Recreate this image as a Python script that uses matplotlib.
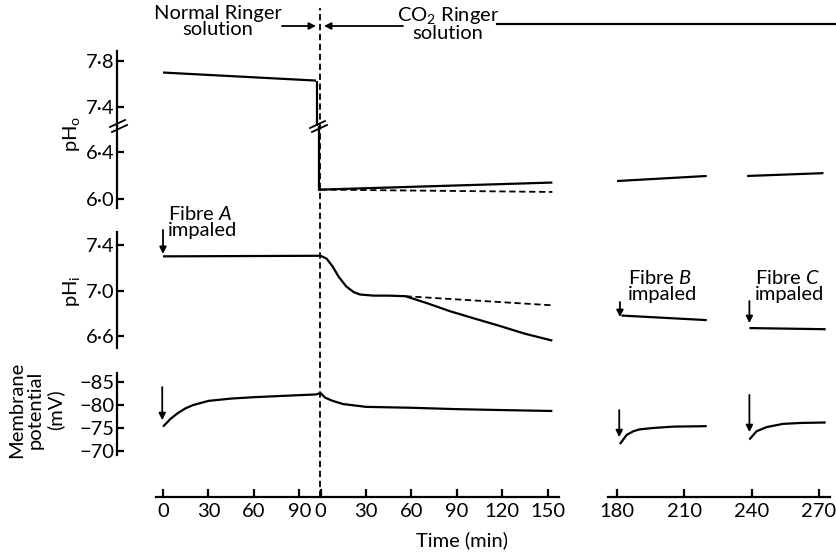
import numpy as np
import matplotlib.pyplot as plt
from matplotlib.lines import Line2D
from matplotlib.patches import FancyArrowPatch
import matplotlib.transforms as mtransforms

plt.rcParams['font.family'] = ['Lato', 'DejaVu Sans']
plt.rcParams['mathtext.fontset'] = 'custom'
plt.rcParams['mathtext.rm'] = 'Lato'
plt.rcParams['mathtext.it'] = 'Lato:italic'

# ---- data ----
# normal Ringer, fibre A (min from start)
pho_norm_t = [0, 101]
pho_norm = [7.70, 7.63]
phi_norm_t = [0, 101]
phi_norm = [7.30, 7.305]
vm_norm_t = [0, 5, 10, 15, 20, 30, 45, 60, 80, 101]
vm_norm = [-75.3, -77.0, -78.3, -79.3, -80.0, -80.9, -81.4, -81.7, -82.0, -82.3]

# CO2 Ringer, fibre A (min from solution change)
pho_co2_t = [0, 153]
pho_co2 = [6.08, 6.14]
pho_co2_dash = [6.08, 6.06]
phi_co2_t = [0, 4, 8, 12, 17, 22, 26, 35, 45, 56, 70, 85, 100, 118, 135, 153]
phi_co2 = [7.305, 7.28, 7.21, 7.12, 7.035, 6.985, 6.965, 6.955, 6.955, 6.95,
           6.89, 6.82, 6.76, 6.69, 6.62, 6.56]
phi_dash_t = [56, 153]
phi_dash = [6.95, 6.87]
vm_co2_t = [0, 3, 8, 15, 30, 60, 90, 120, 153]
vm_co2 = [-82.6, -81.6, -80.9, -80.2, -79.6, -79.4, -79.1, -78.9, -78.7]

# fibres B and C (min)
pho_b_t, pho_b = [180, 220], [6.153, 6.196]
pho_c_t, pho_c = [238, 272], [6.196, 6.22]
phi_b_t, phi_b = [182, 220], [6.78, 6.74]
phi_c_t, phi_c = [239, 273], [6.67, 6.66]
vm_b_t = [181.3, 184.3, 187.3, 190, 196, 205, 220]
vm_b = [-71.5, -73.5, -74.3, -74.7, -75.0, -75.3, -75.4]
vm_c_t = [239, 242.2, 246.7, 254, 262, 273]
vm_c = [-72.5, -74.3, -75.2, -75.9, -76.1, -76.2]

norm_ticks = [0, 30, 60, 90]
co2_ticks = [0, 30, 60, 90, 120, 150]
late_ticks = [180, 210, 240, 270]
pho_ticks_hi = [7.4, 7.8]
pho_ticks_lo = [6.0, 6.4]
phi_ticks = [6.6, 7.0, 7.4]
vm_ticks = [-85, -80, -75, -70]

CO2_OFF = 104      # position of CO2 time 0 on the joined axis
SWITCH = 103.6

W, H = 836, 554
fig = plt.figure(figsize=(W / 100, H / 100), dpi=100)


def add_ax(left, top, right, bottom):
    ax = fig.add_axes([left / W, 1 - bottom / H, (right - left) / W, (bottom - top) / H])
    ax.patch.set_visible(False)
    for s in ax.spines.values():
        s.set_visible(False)
    ax.set_xticks([])
    ax.set_yticks([])
    return ax


def fp(x, y):
    return x / W, 1 - y / H


LW = 1.6
FS = 14.5
xl_left = ((117 - 163) / 1.515, (560 - 163) / 1.515)
xl_right = (180 + (600 - 617) / 2.244, 180 + (836 - 617) / 2.244)

rows = {
    'hi': (40, 126, (7.235, 7.983)),
    'lo': (126, 215, (5.864, 6.621)),
    'phi': (232, 348, (6.495, 7.514)),
    'vm': (373, 497, (-60, -86.96)),
}
axL, axR = {}, {}
for k, (top, bot, yl) in rows.items():
    a = add_ax(117, top, 560, bot)
    a.set_xlim(*xl_left)
    a.set_ylim(*yl)
    axL[k] = a
    b = add_ax(600, top, 836, bot)
    b.set_xlim(*xl_right)
    b.set_ylim(*yl)
    axR[k] = b


def yaxis(ax, ticks, bounds, labels):
    ax.spines['left'].set_visible(True)
    ax.spines['left'].set_linewidth(LW)
    ax.spines['left'].set_bounds(*bounds)
    ax.set_yticks(ticks)
    ax.set_yticklabels(labels)
    ax.tick_params(axis='y', direction='in', length=5, width=LW, labelsize=FS, pad=2)


dot = lambda v: f'{v:.1f}'.replace('.', '\u00b7')
yaxis(axL['hi'], pho_ticks_hi, (7.235, 7.887), [dot(v) for v in pho_ticks_hi])
yaxis(axL['lo'], pho_ticks_lo, (5.923, 6.621), [dot(v) for v in pho_ticks_lo])
yaxis(axL['phi'], phi_ticks, (6.495, 7.514), [dot(v) for v in phi_ticks])
yaxis(axL['vm'], vm_ticks, (-69.13, -86.96), ['\u2212%d' % -v for v in vm_ticks])

# time axes
for ax, ticks, labels, bnd in [
    (axL['vm'], norm_ticks + [CO2_OFF + t for t in co2_ticks],
     [str(t) for t in norm_ticks + co2_ticks], (-4.6, 261.4)),
    (axR['vm'], late_ticks, [str(t) for t in late_ticks], (176, 274.9)),
]:
    ax.spines['bottom'].set_visible(True)
    ax.spines['bottom'].set_linewidth(LW)
    ax.spines['bottom'].set_bounds(*bnd)
    ax.set_xticks(ticks)
    ax.set_xticklabels(labels)
    ax.tick_params(axis='x', direction='in', length=6, width=LW, labelsize=FS, pad=4)

kw = dict(color='k', lw=LW, solid_capstyle='butt')
dkw = dict(color='k', lw=1.3, ls=(0, (3.5, 2)))
co2 = lambda ts: [CO2_OFF + t for t in ts]

# pHo
axL['hi'].plot(pho_norm_t, pho_norm, **kw)
drop_x = pho_norm_t[-1] + 0.5
axL['hi'].plot([drop_x, drop_x], [pho_norm[-1], rows['hi'][2][0]], **kw)
axL['lo'].plot([drop_x + 1.5, drop_x + 1.5, CO2_OFF], [rows['lo'][2][1], pho_co2[0], pho_co2[0]], **kw)
axL['lo'].plot(co2(pho_co2_t), pho_co2, **kw)
axL['lo'].plot(co2(pho_co2_t), pho_co2_dash, **dkw)
axR['lo'].plot(pho_b_t, pho_b, **kw)
axR['lo'].plot(pho_c_t, pho_c, **kw)

# pHi
axL['phi'].plot(phi_norm_t + co2(phi_co2_t), phi_norm + phi_co2, **kw)
axL['phi'].plot(co2(phi_dash_t), phi_dash, **dkw)
axR['phi'].plot(phi_b_t, phi_b, **kw)
axR['phi'].plot(phi_c_t, phi_c, **kw)

# membrane potential
axL['vm'].plot(vm_norm_t + co2(vm_co2_t), vm_norm + vm_co2, **kw)
axR['vm'].plot(vm_b_t, vm_b, **kw)
axR['vm'].plot(vm_c_t, vm_c, **kw)

# impalement arrows
akw = dict(arrowstyle='-|>', color='k', lw=1.3, mutation_scale=10, shrinkA=0, shrinkB=0)
for ax, t, y0, y1 in [(axL['phi'], 0, 7.532, 7.321), (axR['phi'], 181.3, 6.899, 6.767),
                      (axR['phi'], 239, 6.908, 6.714), (axL['vm'], -0.5, -83.9, -76.7),
                      (axR['vm'], 181, -78.9, -73.0), (axR['vm'], 239, -82.2, -74.1)]:
    ax.annotate('', xy=(t, y1), xytext=(t, y0), arrowprops=akw, annotation_clip=False)

tkw = dict(fontsize=FS, va='top', ha='left', linespacing=0.95, clip_on=False)
axL['phi'].text(3.3, 7.75, 'Fibre $A$\nimpaled', **tkw)
axR['phi'].text(184.9, 7.19, 'Fibre $B$\nimpaled', **tkw)
axR['phi'].text(241.6, 7.19, 'Fibre $C$\nimpaled', **tkw)

# y labels
fig.text(*fp(71, 134), 'pH$_\\mathrm{o}$', rotation=90, ha='center', va='center', fontsize=FS)
fig.text(*fp(71, 291), 'pH$_\\mathrm{i}$', rotation=90, ha='center', va='center', fontsize=FS)
fig.text(*fp(36, 410), 'Membrane\npotential\n(mV)', rotation=90, ha='center', va='center',
         fontsize=FS, linespacing=1.15, multialignment='center')
fig.text(*fp(462, 540), 'Time (min)', ha='center', va='center', fontsize=FS)

# solution change line
tr = mtransforms.blended_transform_factory(axL['vm'].transData, fig.transFigure)
fig.add_artist(Line2D([SWITCH, SWITCH], [1 - 497 / H, 1 - 8 / H], transform=tr, **dkw))

# header
fig.text(*fp(218, 5), 'Normal Ringer\nsolution', ha='center', va='top', fontsize=FS,
         linespacing=0.95)
fig.text(*fp(448, 5), '$\\mathregular{CO_2}$ Ringer\nsolution', ha='center', va='top',
         fontsize=FS, linespacing=0.95, multialignment='center')
for a, b in [((282, 26), (316, 26)), ((403, 26), (324, 26))]:
    fig.add_artist(FancyArrowPatch(fp(*a), fp(*b), transform=fig.transFigure, **akw))
fig.add_artist(Line2D([497 / W, 1], [1 - 24 / H] * 2, transform=fig.transFigure,
                      color='k', lw=LW))

# axis break marks
for x0, y0 in [(110, 127), (112, 132), (310, 128), (312, 132)]:
    fig.add_artist(Line2D([x0 / W, (x0 + 15) / W], [1 - y0 / H, 1 - (y0 - 7) / H],
                          transform=fig.transFigure, color='k', lw=1.3))

fig.savefig('out.png', dpi=100)
